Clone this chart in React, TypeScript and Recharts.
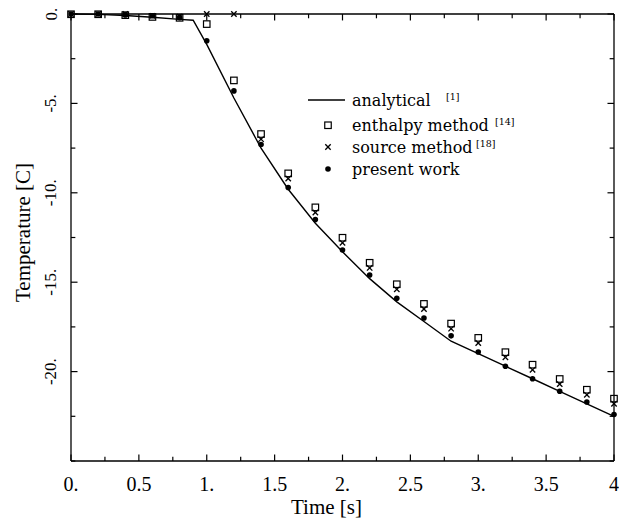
import React from 'react';
import { ComposedChart, Line, Scatter, XAxis, YAxis, ReferenceLine } from 'recharts';

// sample times of the three numerical methods
const times = [0, 0.2, 0.4, 0.6, 0.8, 1.0, 1.2, 1.4, 1.6, 1.8, 2.0, 2.2, 2.4, 2.6, 2.8, 3.0, 3.2, 3.4, 3.6, 3.8, 4.0];

const presentWork = [0, 0, -0.05, -0.1, -0.2, -1.5, -4.3, -7.3, -9.7, -11.5, -13.2, -14.6, -15.9, -17.0, -18.0, -18.9, -19.7, -20.4, -21.1, -21.7, -22.4];
const enthalpyMethod = [0, 0, -0.05, -0.15, -0.2, -0.55, -3.7, -6.7, -8.9, -10.8, -12.5, -13.9, -15.1, -16.2, -17.3, -18.1, -18.9, -19.6, -20.4, -21.0, -21.5];
const sourceMethod = [0, 0, 0, -0.1, -0.15, 0, 0, -7.0, -9.2, -11.1, -12.8, -14.2, -15.4, -16.5, -17.6, -18.4, -19.2, -19.9, -20.7, -21.3, -21.8];

const analyticalTimes = [0, 0.2, 0.4, 0.6, 0.8, 0.9, 1.0, 1.2, 1.4, 1.6, 1.8, 2.0, 2.2, 2.4, 2.6, 2.8, 3.0, 3.2, 3.4, 3.6, 3.8, 4.0];
const analyticalValues = [0, -0.02, -0.08, -0.18, -0.3, -0.35, -1.7, -4.7, -7.5, -9.8, -11.7, -13.3, -14.8, -16.1, -17.2, -18.3, -19.0, -19.7, -20.4, -21.1, -21.8, -22.5];

const xTicks = [0, 0.25, 0.5, 0.75, 1, 1.25, 1.5, 1.75, 2, 2.25, 2.5, 2.75, 3, 3.25, 3.5, 3.75, 4];
const xMajor = [0, 0.5, 1, 1.5, 2, 2.5, 3, 3.5, 4];
const xLabels = ['0.', '0.5', '1.', '1.5', '2.', '2.5', '3.', '3.5', '4'];

const yTicks = [0, -2.5, -5, -7.5, -10, -12.5, -15, -17.5, -20, -22.5, -25];
const yMajor = [0, -5, -10, -15, -20];
const yLabels = ['0.', '-5.', '-10.', '-15.', '-20.'];

const X_MIN = 0;
const X_MAX = 4;
const Y_MIN = -25;
const Y_MAX = 0;

const presentData = times.map((t, i) => ({ t, v: presentWork[i] }));
const enthalpyData = times.map((t, i) => ({ t, v: enthalpyMethod[i] }));
const sourceData = times.map((t, i) => ({ t, v: sourceMethod[i] }));
const analyticalData = analyticalTimes.map((t, i) => ({ t, v: analyticalValues[i] }));

const SERIF = '"Liberation Serif", "Times New Roman", serif';
const LEGEND_FONT = '"DejaVu Serif", serif';

function majorIndex(list: number[], v: number) {
  return list.findIndex((m) => Math.abs(m - v) < 1e-6);
}

function BottomTick({ x, y, payload }: any) {
  const i = majorIndex(xMajor, payload.value);
  if (i < 0) return <g />;
  return (
    <text x={x} y={y + 30} textAnchor="middle" fontSize={20} fontFamily={SERIF} fill="#000">
      {xLabels[i]}
    </text>
  );
}

function LeftTick({ x, y, payload }: any) {
  const i = majorIndex(yMajor, payload.value);
  if (i < 0) return <g />;
  const lx = x - 20;
  return (
    <text
      x={lx}
      y={y}
      transform={`rotate(-90 ${lx} ${y})`}
      textAnchor="middle"
      dominantBaseline="central"
      fontSize={17}
      fontFamily={SERIF}
      fill="#000"
    >
      {yLabels[i]}
    </text>
  );
}

function XTitle({ viewBox }: any) {
  return (
    <text x={viewBox.x + viewBox.width / 2 - 16} y={viewBox.y + 53} textAnchor="middle" fontSize={21} fontFamily={SERIF} fill="#000">
      Time [s]
    </text>
  );
}

function YTitle({ viewBox }: any) {
  const cx = 23;
  const cy = viewBox.y + viewBox.height / 2 - 5;
  return (
    <text
      x={cx}
      y={cy}
      transform={`rotate(-90 ${cx} ${cy})`}
      textAnchor="middle"
      dominantBaseline="central"
      fontSize={21}
      fontFamily={SERIF}
      fill="#000"
    >
      Temperature [C]
    </text>
  );
}

const Square = ({ cx, cy }: any) => (
  <rect x={cx - 3.25} y={cy - 3} width={6.5} height={6.5} fill="none" stroke="#000" strokeWidth={1.2} />
);
const Cross = ({ cx, cy }: any) => (
  <g stroke="#000" strokeWidth={1.3}>
    <line x1={cx - 2.7} y1={cy - 2.7} x2={cx + 2.7} y2={cy + 2.7} />
    <line x1={cx - 2.7} y1={cy + 2.7} x2={cx + 2.7} y2={cy - 2.7} />
  </g>
);
const Dot = ({ cx, cy }: any) => <circle cx={cx} cy={cy} r={2.8} fill="#000" />;

function LegendBox() {
  const rows = [
    { y: 100, label: 'analytical', cite: '[1]', cx: 446 },
    { y: 125, label: 'enthalpy method', cite: '[14]', cx: 495 },
    { y: 147, label: 'source method', cite: '[18]', cx: 476 },
    { y: 169, label: 'present work', cite: '', cx: 0 },
  ];
  return (
    <svg width={619} height={526} style={{ position: 'absolute', left: 0, top: 0, pointerEvents: 'none' }}>
      <line x1={308} y1={100} x2={345} y2={100} stroke="#000" strokeWidth={1.3} />
      <Square cx={328} cy={125} />
      <Cross cx={328} cy={147} />
      <Dot cx={328} cy={169} />
      {rows.map((r) => (
        <g key={r.label}>
          <text x={352} y={r.y} dominantBaseline="central" fontSize={16} fontFamily={LEGEND_FONT} fill="#000">
            {r.label}
          </text>
          {r.cite && (
            <text x={r.cx} y={r.y - 4} dominantBaseline="central" fontSize={9.5} fontFamily={LEGEND_FONT} fill="#000">
              {r.cite}
            </text>
          )}
        </g>
      ))}
    </svg>
  );
}

const axisStroke = { stroke: '#000', strokeWidth: 1.3 };

// inward tick marks on all four sides, drawn as short segments in data units
function tickMarks() {
  const marks: React.ReactNode[] = [];
  xTicks.forEach((t) => {
    const dy = majorIndex(xMajor, t) >= 0 ? 0.36 : 0.24;
    marks.push(
      <ReferenceLine key={`xb${t}`} segment={[{ x: t, y: Y_MIN }, { x: t, y: Y_MIN + dy }]} stroke="#000" strokeWidth={1.2} ifOverflow="visible" />,
      <ReferenceLine key={`xt${t}`} segment={[{ x: t, y: Y_MAX }, { x: t, y: Y_MAX - dy }]} stroke="#000" strokeWidth={1.2} ifOverflow="visible" />,
    );
  });
  yTicks.forEach((v) => {
    const dx = majorIndex(yMajor, v) >= 0 ? 0.048 : 0.032;
    marks.push(
      <ReferenceLine key={`yl${v}`} segment={[{ x: X_MIN, y: v }, { x: X_MIN + dx, y: v }]} stroke="#000" strokeWidth={1.2} ifOverflow="visible" />,
      <ReferenceLine key={`yr${v}`} segment={[{ x: X_MAX, y: v }, { x: X_MAX - dx, y: v }]} stroke="#000" strokeWidth={1.2} ifOverflow="visible" />,
    );
  });
  return marks;
}

export default function App() {
  return (
    <div style={{ position: 'relative', width: 619, height: 526, background: '#fff' }}>
      <style>{'body{margin:0}'}</style>
      <ComposedChart width={619} height={526} margin={{ top: 13, right: 4, bottom: 0, left: 0 }}>
        <XAxis
          type="number"
          dataKey="t"
          domain={[X_MIN, X_MAX]}
          ticks={xTicks}
          interval={0}
          tickSize={0}
          tickMargin={0}
          tickLine={false}
          axisLine={axisStroke}
          height={65}
          tick={<BottomTick />}
          label={{ content: <XTitle /> }}
        />
        <XAxis
          xAxisId="top"
          orientation="top"
          type="number"
          domain={[X_MIN, X_MAX]}
          ticks={xTicks}
          tickLine={false}
          axisLine={axisStroke}
          height={1}
          tick={false}
        />
        <YAxis
          type="number"
          domain={[Y_MIN, Y_MAX]}
          ticks={yTicks}
          interval={0}
          tickSize={0}
          tickMargin={0}
          tickLine={false}
          axisLine={axisStroke}
          width={71}
          tick={<LeftTick />}
          label={{ content: <YTitle /> }}
        />
        <YAxis
          yAxisId="right"
          orientation="right"
          type="number"
          domain={[Y_MIN, Y_MAX]}
          ticks={yTicks}
          tickLine={false}
          axisLine={axisStroke}
          width={1}
          tick={false}
        />
        {tickMarks()}
        <Line
          data={analyticalData}
          dataKey="v"
          type="linear"
          stroke="#000"
          strokeWidth={1.4}
          dot={false}
          isAnimationActive={false}
        />
        <Scatter data={sourceData} dataKey="v" shape={Cross} isAnimationActive={false} />
        <Scatter data={enthalpyData} dataKey="v" shape={Square} isAnimationActive={false} />
        <Scatter data={presentData} dataKey="v" shape={Dot} isAnimationActive={false} />
      </ComposedChart>
      <LegendBox />
    </div>
  );
}
